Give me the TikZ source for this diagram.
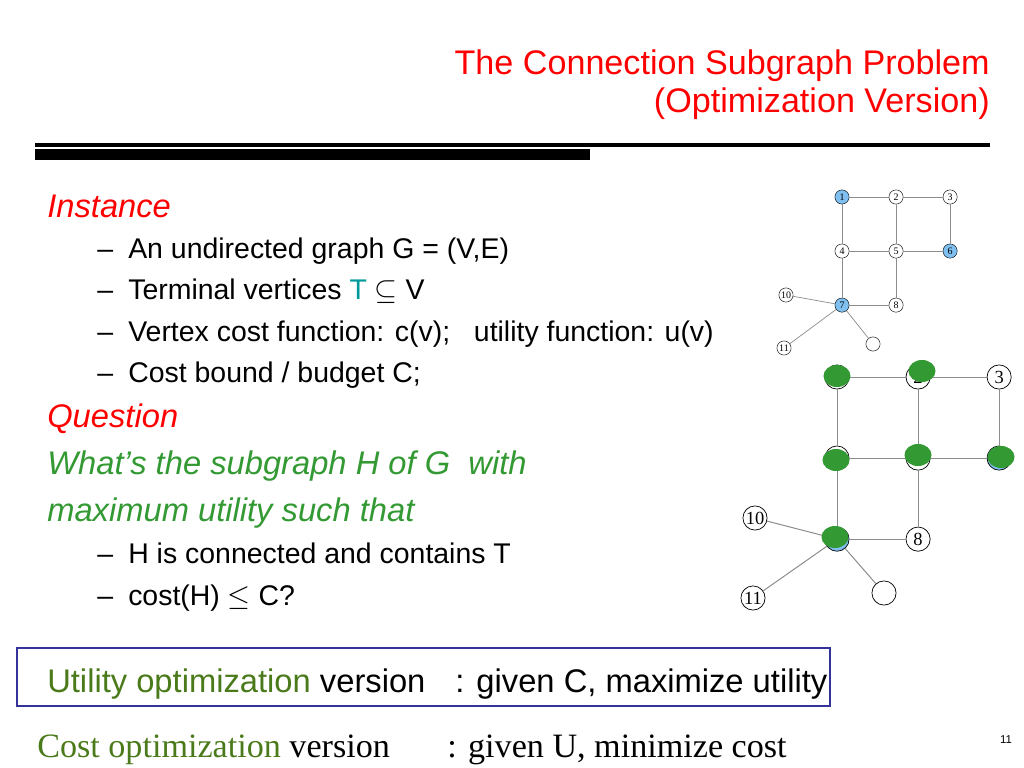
\documentclass[tikz,border=0pt]{standalone}
\usepackage{fontspec}
\setmainfont{Liberation Sans}
\newfontfamily\serifface{Liberation Serif}
\usetikzlibrary{positioning,shapes.geometric}
\definecolor{slide-red}{HTML}{FF0000}
\definecolor{slide-green}{HTML}{339933}
\definecolor{slide-olive}{HTML}{4A7A1A}
\definecolor{slide-teal}{HTML}{009999}
\definecolor{slide-blue}{HTML}{333399}
\definecolor{term-blue}{HTML}{80C0F0}
\definecolor{edge-grey}{HTML}{8C8C8C}

\begin{document}
\begin{tikzpicture}[x=0.703125pt,y=-0.703125pt,inner sep=0pt]
  \tikzstyle{heading}=[font=\fontsize{24}{28}\selectfont,text=slide-red,anchor=base east]
  \tikzstyle{topic}=[font=\fontsize{23}{27}\selectfont\itshape,anchor=base west]
  \tikzstyle{item}=[font=\fontsize{20}{24}\selectfont,anchor=base west]
  \tikzstyle{line}=[font=\fontsize{23}{27}\selectfont,anchor=base west]
  \tikzstyle{small vertex}=[circle,draw=black,fill=white,minimum size=10pt,line width=0.3pt,font=\serifface\fontsize{7}{7}\selectfont]
  \tikzstyle{big vertex}=[circle,draw=black,fill=white,minimum size=17pt,line width=0.5pt,font=\serifface\fontsize{13}{13}\selectfont]
  \tikzstyle{picked}=[ellipse,fill=slide-green,minimum width=19pt,minimum height=15.5pt]
  \newcommand{\itemdash}{\makebox[21.8pt][l]{--}}

  \useasboundingbox (0,0) rectangle (1024,768);

  %% title
  \node[heading] (title1) at (990,75)  {The Connection Subgraph Problem};
  \node[heading] (title2) at (990,113) {(Optimization Version)};
  \fill (35,143) rectangle (990,147);
  \fill (35,149) rectangle (590,160);

  %% instance
  \node[topic,text=slide-red] (inst) at (47,218) {Instance};
  \node[item] (i1) at (97,259) {\itemdash An undirected graph G = (V,E)};
  \node[item] (i2) at (97,300) {\itemdash Terminal vertices \textcolor{slide-teal}{T} $\subseteq$ V};
  \node[item] (i3) at (97,341) {\itemdash Vertex cost function: c(v);\ \ \ utility function: u(v)};
  \node[item] (i4) at (97,382) {\itemdash Cost bound / budget C;};

  %% question
  \node[topic,text=slide-red] (quest) at (47,427) {Question};
  \node[topic,text=slide-green] (q1) at (47,474) {What’s the subgraph H of G\ \ with};
  \node[topic,text=slide-green] (q2) at (47,521) {maximum utility such that};
  \node[item] (q3) at (97,563) {\itemdash H is connected and contains T};
  \node[item] (q4) at (97,605) {\itemdash cost(H) $\leq$ C?};

  %% versions
  \draw[slide-blue,line width=1.2pt] (17,648) rectangle (830,706);
  \node[line] (util) at (47,692) {\textcolor{slide-olive}{Utility optimization} version};
  \node[line] (utilgoal) at (455,692) {: given C, maximize utility};
  \node[line,font=\serifface\fontsize{24}{28}\selectfont] (cost) at (37,757) {\textcolor{slide-olive}{Cost optimization} version};
  \node[line,font=\serifface\fontsize{24}{28}\selectfont] (costgoal) at (447,757) {: given U, minimize cost};
  \node[font=\fontsize{8}{8}\selectfont,anchor=base] (page) at (1006,743) {11};

  %% small graph
  \begin{scope}[node distance=38pt]
    \node[small vertex,fill=term-blue] (s1) at (842,197) {1};
    \node[small vertex] (s2) [right of=s1] {2};
    \node[small vertex] (s3) [right of=s2] {3};
    \node[small vertex] (s4) [below of=s1] {4};
    \node[small vertex] (s5) [right of=s4] {5};
    \node[small vertex,fill=term-blue] (s6) [right of=s5] {6};
    \node[small vertex,fill=term-blue] (s7) [below of=s4] {7};
    \node[small vertex] (s8) [right of=s7] {8};
    \node[small vertex] (s10) at (786,295) {10};
    \node[small vertex] (s11) at (784,348) {11};
    \node[small vertex] (s12) at (873,344) {};
  \end{scope}
  \path[edge-grey,line width=0.5pt]
  (s1) edge (s2)  (s2) edge (s3)
  (s1) edge (s4)  (s2) edge (s5)  (s3) edge (s6)
  (s4) edge (s5)  (s5) edge (s6)
  (s4) edge (s7)  (s5) edge (s8)  (s7) edge (s8)
  (s7) edge (s10) (s7) edge (s11) (s7) edge (s12);

  %% big graph
  \begin{scope}[node distance=57pt]
    \node[big vertex] (b1) at (837,377) {1};
    \node[big vertex] (b2) [right of=b1] {2};
    \node[big vertex] (b3) [right of=b2] {3};
    \node[big vertex] (b4) [below of=b1] {4};
    \node[big vertex] (b5) [right of=b4] {5};
    \node[big vertex,fill=term-blue] (b6) [right of=b5] {6};
    \node[big vertex,fill=term-blue] (b7) [below of=b4] {7};
    \node[big vertex] (b8) [right of=b7] {8};
    \node[big vertex] (b10) at (755,518) {10};
    \node[big vertex] (b11) at (753,598) {11};
    \node[big vertex] (b12) at (884,593) {};
  \end{scope}
  \path[edge-grey,line width=0.7pt]
  (b1) edge (b2)  (b2) edge (b3)
  (b1) edge (b4)  (b2) edge (b5)  (b3) edge (b6)
  (b4) edge (b5)  (b5) edge (b6)
  (b4) edge (b7)  (b5) edge (b8)  (b7) edge (b8)
  (b7) edge (b10) (b7) edge (b11) (b7) edge (b12);

  %% chosen vertices
  \node[picked] (g1) at (837,376) {};
  \node[picked] (g2) at (922,371) {};
  \node[picked] (g4) at (836,460) {};
  \node[picked] (g5) at (918,455) {};
  \node[picked] (g6) at (1001,457) {};
  \node[picked] (g7) at (835,537) {};
\end{tikzpicture}
\end{document}
